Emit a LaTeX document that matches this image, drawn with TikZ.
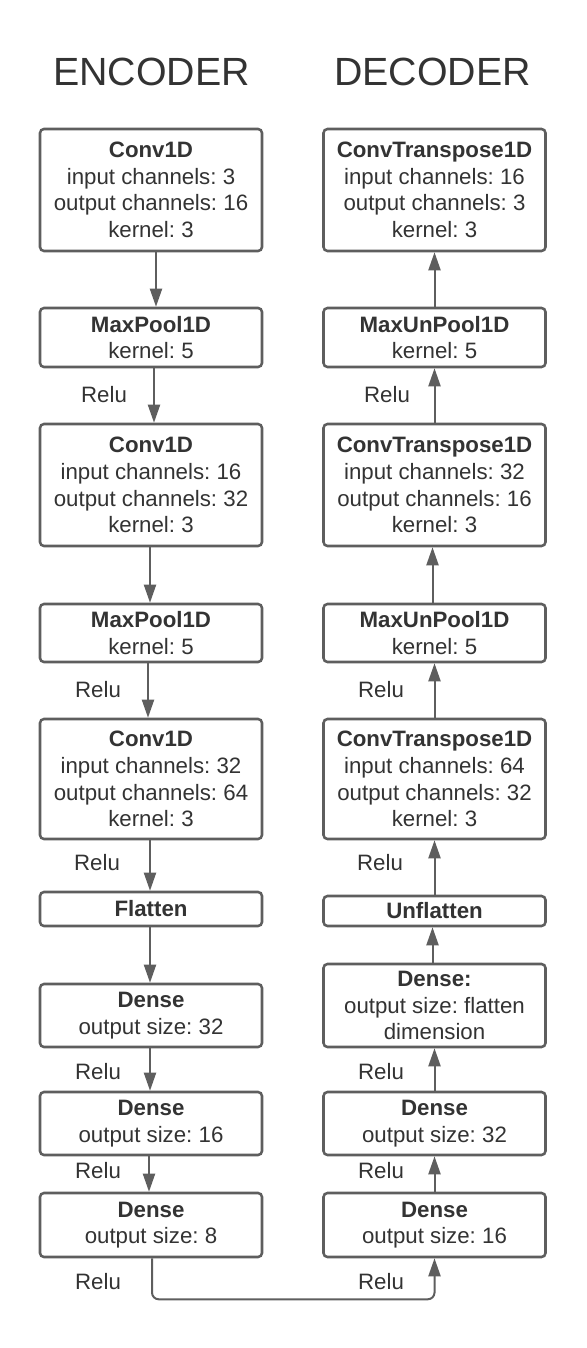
\documentclass[tikz,border=0pt]{standalone}
\usepackage{fontspec}
\setmainfont{Liberation Sans}
\usetikzlibrary{arrows.meta}
\newlength\pxu \setlength\pxu{0.75pt}
\definecolor{boxgray}{RGB}{94,94,94}
\definecolor{txtgray}{RGB}{51,51,51}
\frenchspacing
\begin{document}
\begin{tikzpicture}[x=0.75pt,y=-0.75pt,
  layer/.style={draw=boxgray, line width=1.9pt, rounded corners=3pt, fill=white, text=txtgray,
    align=center, minimum width=222\pxu, inner sep=0pt, font=\fontsize{16.7}{20}\selectfont},
  flow/.style={draw=boxgray, line width=1.5pt, -{Triangle[length=13.5pt,width=9pt]}},
  relu/.style={text=txtgray, font=\fontsize{16.7}{20}\selectfont, inner sep=0pt},
  title/.style={text=txtgray, font=\fontsize{29.5}{34}\selectfont, inner sep=0pt}]
\useasboundingbox (0,0) rectangle (586,1348);

% titles
\node[title] (tenc) at (151.5,71.5) {ENCODER};
\node[title] (tdec) at (432.5,71.5) {DECODER};

% encoder
\node[layer, minimum height=122\pxu] (E1) at (151,190) {\textbf{Conv1D}\\input channels: 3\\output channels: 16\\kernel: 3};
\node[layer, minimum height=59\pxu] (E2) at (151,337.5) {\textbf{MaxPool1D}\\kernel: 5};
\node[layer, minimum height=122\pxu] (E3) at (151,485) {\textbf{Conv1D}\\input channels: 16\\output channels: 32\\kernel: 3};
\node[layer, minimum height=58\pxu] (E4) at (151,633) {\textbf{MaxPool1D}\\kernel: 5};
\node[layer, minimum height=120\pxu] (E5) at (151,779) {\textbf{Conv1D}\\input channels: 32\\output channels: 64\\kernel: 3};
\node[layer, minimum height=34\pxu] (E6) at (151,909) {\textbf{Flatten}};
\node[layer, minimum height=63\pxu] (E7) at (151,1015.5) {\textbf{Dense}\\output size: 32};
\node[layer, minimum height=63\pxu] (E8) at (151,1123.5) {\textbf{Dense}\\output size: 16};
\node[layer, minimum height=64\pxu] (E9) at (151,1225) {\textbf{Dense}\\output size: 8};

% decoder
\node[layer, minimum height=122\pxu] (D1) at (434.5,190) {\textbf{ConvTranspose1D}\\input channels: 16\\output channels: 3\\kernel: 3};
\node[layer, minimum height=59\pxu] (D2) at (434.5,337.5) {\textbf{MaxUnPool1D}\\kernel: 5};
\node[layer, minimum height=122\pxu] (D3) at (434.5,485) {\textbf{ConvTranspose1D}\\input channels: 32\\output channels: 16\\kernel: 3};
\node[layer, minimum height=58\pxu] (D4) at (434.5,633) {\textbf{MaxUnPool1D}\\kernel: 5};
\node[layer, minimum height=120\pxu] (D5) at (434.5,779) {\textbf{ConvTranspose1D}\\input channels: 64\\output channels: 32\\kernel: 3};
\node[layer, minimum height=30\pxu] (D6) at (434.5,911) {\textbf{Unflatten}};
\node[layer, minimum height=83\pxu] (D7) at (434.5,1005.5) {\textbf{Dense:}\\output size: flatten\\dimension};
\node[layer, minimum height=63\pxu] (D8) at (434.5,1123.5) {\textbf{Dense}\\output size: 32};
\node[layer, minimum height=64\pxu] (D9) at (434.5,1225) {\textbf{Dense}\\output size: 16};

% encoder arrows
\draw[flow] ([xshift=5\pxu]E1.south) -- ([xshift=5\pxu]E2.north);
\draw[flow] ([xshift=3\pxu]E2.south) -- ([xshift=3\pxu]E3.north);
\draw[flow] ([xshift=-1\pxu]E3.south) -- ([xshift=-1\pxu]E4.north);
\draw[flow] ([xshift=-3\pxu]E4.south) -- ([xshift=-3\pxu]E5.north);
\draw[flow] ([xshift=-1\pxu]E5.south) -- ([xshift=-1\pxu]E6.north);
\draw[flow] ([xshift=-1\pxu]E6.south) -- ([xshift=-1\pxu]E7.north);
\draw[flow] ([xshift=-1\pxu]E7.south) -- ([xshift=-1\pxu]E8.north);
\draw[flow] ([xshift=-2\pxu]E8.south) -- ([xshift=-2\pxu]E9.north);

% decoder arrows
\draw[flow] (D2.north) -- (D1.south);
\draw[flow] (D3.north) -- (D2.south);
\draw[flow] ([xshift=-2\pxu]D4.north) -- ([xshift=-2\pxu]D3.south);
\draw[flow] (D5.north) -- (D4.south);
\draw[flow] (D6.north) -- (D5.south);
\draw[flow] ([xshift=-2\pxu]D7.north) -- ([xshift=-2\pxu]D6.south);
\draw[flow] (D8.north) -- (D7.south);
\draw[flow] (D9.north) -- (D8.south);

% bridge
\draw[flow, rounded corners=5pt] ([xshift=1\pxu]E9.south) -- ++(0,41) -| (D9.south);

% relu labels
\node[relu] (re1) at (104,395) {Relu};
\node[relu] (re2) at (98,690) {Relu};
\node[relu] (re3) at (97,863) {Relu};
\node[relu] (re4) at (98,1072) {Relu};
\node[relu] (re5) at (98,1171) {Relu};
\node[relu] (re6) at (98,1282) {Relu};
\node[relu] (rd1) at (387,395) {Relu};
\node[relu] (rd2) at (381,690) {Relu};
\node[relu] (rd3) at (380,863) {Relu};
\node[relu] (rd4) at (381,1072) {Relu};
\node[relu] (rd5) at (381,1171) {Relu};
\node[relu] (rd6) at (381,1282) {Relu};
\end{tikzpicture}
\end{document}
